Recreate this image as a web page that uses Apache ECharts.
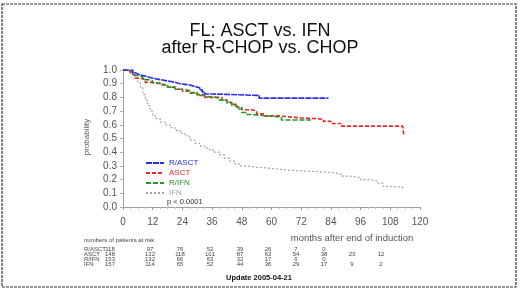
<!DOCTYPE html>
<html>
<head>
<meta charset="utf-8">
<script src="https://cdn.jsdelivr.net/npm/echarts@6/dist/echarts.min.js"></script>
<style>
  html, body { margin: 0; padding: 0; background: #fff; }
  #chart { width: 520px; height: 295px; }
</style>
</head>
<body>
<div id="chart"></div>
<script>
// Kaplan-Meier curves: [month, probability]
const rAsct = [[0,1],[3,1],[4,0.98],[5,0.97],[6,0.96],[8,0.95],[10,0.94],[12,0.93],[15,0.92],[18,0.91],[21,0.9],[23,0.895],[25,0.89],[27,0.88],[29,0.87],[31,0.855],[32,0.84],[33,0.825],[36,0.815],[54,0.815],[55,0.795],[83,0.795]]
const asct = [[0,1],[2,0.99],[3,0.97],[4,0.96],[5,0.94],[7,0.93],[9,0.91],[12,0.9],[15,0.89],[18,0.875],[21,0.86],[24,0.845],[27,0.83],[30,0.815],[33,0.8],[38,0.8],[40,0.78],[42,0.765],[44,0.75],[46,0.73],[48,0.71],[52,0.7],[54,0.68],[57,0.665],[63,0.66],[66,0.65],[72,0.645],[78,0.64],[81,0.625],[84,0.61],[88,0.59],[113,0.59],[113.5,0.52]]
const rIfn = [[0,1],[2,0.99],[3,0.98],[4,0.96],[6,0.95],[8,0.93],[10,0.92],[12,0.905],[15,0.89],[18,0.875],[21,0.86],[24,0.85],[27,0.835],[30,0.82],[33,0.805],[36,0.795],[39,0.78],[42,0.76],[44,0.74],[46,0.715],[48,0.69],[50,0.675],[52,0.665],[58,0.66],[62,0.655],[64,0.635],[76,0.635]]
const ifn = [[0,1],[3,0.99],[4,0.97],[5,0.94],[6,0.91],[7,0.87],[8,0.82],[9,0.78],[10,0.74],[11,0.7],[12,0.67],[13,0.645],[15,0.62],[17,0.6],[19,0.58],[21,0.56],[23,0.54],[25,0.52],[27,0.49],[29,0.465],[31,0.445],[33,0.43],[35,0.415],[37,0.4],[39,0.38],[41,0.355],[43,0.335],[45,0.315],[47,0.3],[50,0.29],[54,0.285],[58,0.275],[63,0.265],[70,0.26],[76,0.255],[82,0.25],[85,0.24],[88,0.225],[92,0.215],[96,0.2],[100,0.19],[103,0.175],[105,0.15],[108,0.145],[113,0.135]]

const groupNames = ['R/ASCT', 'ASCT', 'R/IFN', 'IFN']
const groupColors = ['#2b2bef', '#f02424', '#1f9a1f', '#a0a0a0']

// numbers of patients at risk
const riskHeader = 'numbers of patients at risk'
const riskRAsct = [118, 97, 76, 52, 39, 26, 7, 0]
const riskAsct = [148, 132, 118, 101, 87, 63, 54, 38, 23, 12]
const riskRIfn = [153, 132, 66, 63, 32, 17, 6, 0]
const riskIfn = [157, 114, 65, 52, 44, 36, 29, 17, 9, 2]

const titleLines = ['FL: ASCT vs. IFN', 'after R-CHOP vs. CHOP']
const xName = 'months after end of induction'
const yName = 'probability'
const pText = 'p < 0.0001'
const updateText = 'Update 2005-04-21'

const myChart = echarts.init(document.getElementById('chart'))

const makeLine = (name, data, color, dash, width, z) => ({
    name: name,
    type: 'line',
    step: 'end',
    showSymbol: false,
    symbol: 'none',
    data: data,
    z: z,
    color: color,
    lineStyle: { color: color, width: width, type: dash }
})

let series = [
    makeLine(groupNames[3], ifn, groupColors[3], [2, 2], 1.2, 2),
    makeLine(groupNames[1], asct, groupColors[1], [4, 2], 1.6, 3),
    makeLine(groupNames[2], rIfn, groupColors[2], [5, 2], 1.6, 4),
    makeLine(groupNames[0], rAsct, groupColors[0], [6, 1], 1.6, 5),
]

// risk table as text
const tableFont = '6px "Liberation Sans"'
const colX = [110, 150, 180, 210, 240, 268, 296, 324, 352, 381]
const rowY = [249, 254, 259, 264]
const riskRows = [riskRAsct, riskAsct, riskRIfn, riskIfn]
const tableText = []
tableText.push({ type: 'text', x: 84, y: 240, style: { text: riskHeader, font: tableFont, fill: '#444', textVerticalAlign: 'middle' } })
riskRows.forEach((row, r) => {
    tableText.push({ type: 'text', x: 84, y: rowY[r], style: { text: groupNames[r], font: tableFont, fill: '#444', textVerticalAlign: 'middle' } })
    row.forEach((v, c) => {
        tableText.push({ type: 'text', x: colX[c], y: rowY[r], style: { text: String(v), font: tableFont, fill: '#444', textAlign: 'center', textVerticalAlign: 'middle' } })
    })
})

const dotted = { color: '#9a9a9a', type: [1, 1], width: 1 }

myChart.setOption({
    animation: false,
    backgroundColor: '#fff',
    textStyle: { fontFamily: 'Liberation Sans' },
    grid: { left: 123, right: 100, top: 70, bottom: 88 },
    legend: {
        orient: 'vertical',
        left: 145,
        top: 159,
        padding: 0,
        itemWidth: 18,
        itemHeight: 7,
        itemGap: 2,
        itemStyle: { opacity: 0 },
        data: groupNames.map((n, i) => ({ name: n, textStyle: { color: groupColors[i] } })),
        textStyle: { fontSize: 8, fontFamily: 'Liberation Sans' }
    },
    xAxis: [
        {
            type: 'value', min: 0, max: 120, interval: 12,
            axisLine: { lineStyle: dotted },
            axisTick: { show: true, length: 3, lineStyle: { color: '#999' } },
            minorTick: { show: true, splitNumber: 4, length: 2, lineStyle: { color: '#bbb' } },
            splitLine: { show: false },
            axisLabel: { fontSize: 10, color: '#555', margin: 10 }
        },
        {
            type: 'value', min: 0, max: 120, interval: 12, position: 'top',
            axisLine: { show: true, lineStyle: dotted },
            axisTick: { show: false }, axisLabel: { show: false }, splitLine: { show: false }
        }
    ],
    yAxis: [
        {
            type: 'value', min: 0, max: 1, interval: 0.1,
            axisLine: { show: true, lineStyle: dotted },
            axisTick: { show: true, length: 3, lineStyle: { color: '#999' } },
            splitLine: { show: false },
            axisLabel: { fontSize: 10, color: '#555', margin: 6, formatter: v => v.toFixed(1) }
        },
        {
            type: 'value', min: 0, max: 1, interval: 0.1, position: 'right',
            axisLine: { show: true, lineStyle: dotted },
            axisTick: { show: true, inside: true, length: 2, lineStyle: { color: '#bbb' } },
            axisLabel: { show: false }, splitLine: { show: false }
        }
    ],
    series: series,
    graphic: [
        { type: 'rect', shape: { x: 2, y: 4, width: 514, height: 283 }, style: { fill: null, stroke: '#333', lineWidth: 1.2, lineDash: [3, 1] }, silent: true },
        { type: 'text', x: 260, y: 31, style: { text: titleLines[0], font: '18px "Liberation Sans"', fill: '#111', textAlign: 'center', textVerticalAlign: 'middle' } },
        { type: 'text', x: 260, y: 48, style: { text: titleLines[1], font: '18px "Liberation Sans"', fill: '#111', textAlign: 'center', textVerticalAlign: 'middle' } },
        { type: 'text', x: 87, y: 137, rotation: Math.PI / 2, style: { text: yName, font: '8px "Liberation Sans"', fill: '#555', textAlign: 'center', textVerticalAlign: 'middle' } },
        { type: 'text', x: 352, y: 238, style: { text: xName, font: '9.5px "Liberation Sans"', fill: '#555', textAlign: 'center', textVerticalAlign: 'middle' } },
        { type: 'text', x: 167, y: 202, style: { text: pText, font: '7.5px "Liberation Sans"', fill: '#333', textVerticalAlign: 'middle' } },
        { type: 'text', x: 259, y: 278, style: { text: updateText, font: 'bold 7.5px "Liberation Sans"', fill: '#111', textAlign: 'center', textVerticalAlign: 'middle' } },
        ...tableText
    ]
})
</script>
</body>
</html>
